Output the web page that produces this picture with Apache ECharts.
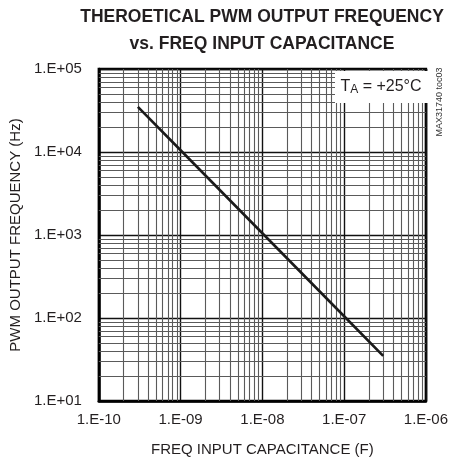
<!DOCTYPE html>
<html><head><meta charset="utf-8">
<script src="https://cdn.jsdelivr.net/npm/echarts@6/dist/echarts.min.js"></script>
<style>html,body{margin:0;padding:0;background:#fff}#c{width:451px;height:464px}</style>
</head><body><div id="c"></div>
<script>
const capacitance = [3e-10, 1e-9, 1e-8, 1e-7, 3e-7];
const frequency = [35000, 10500, 1050, 105, 35];
const xTickLabels = ['1.E-10', '1.E-09', '1.E-08', '1.E-07', '1.E-06'];
const yTickLabels = ['1.E+01', '1.E+02', '1.E+03', '1.E+04', '1.E+05'];
const xDecades = [-10, -9, -8, -7];
const yDecades = [1, 2, 3, 4];
const minorMultiples = [2, 3, 4, 5, 6, 7, 8, 9];

const X_MIN = 1e-10, X_MAX = 1e-6, Y_MIN = 10, Y_MAX = 1e5;
const minorLines = [];
xDecades.forEach(d => minorMultiples.forEach(m => {
  const v = m * Math.pow(10, d);
  minorLines.push({ coords: [[v, Y_MIN], [v, Y_MAX]] });
}));
yDecades.forEach(d => minorMultiples.forEach(m => {
  const v = m * Math.pow(10, d);
  minorLines.push({ coords: [[X_MIN, v], [X_MAX, v]] });
}));

const FONT = 'Liberation Sans';
const chart = echarts.init(document.getElementById('c'));
chart.setOption({
  animation: false,
  backgroundColor: '#fff',
  title: {
    text: 'THEROETICAL PWM OUTPUT FREQUENCY\nvs. FREQ INPUT CAPACITANCE',
    left: 257, top: -1, textAlign: 'center',
    textStyle: { fontFamily: FONT, fontSize: 17.5, fontWeight: 'bold', color: '#231f20', lineHeight: 27 }
  },
  grid: { left: 98, right: 19, top: 69, bottom: 63, show: true, borderColor: '#000', borderWidth: 2.5, backgroundColor: 'transparent' },
  xAxis: {
    type: 'log', logBase: 10, min: X_MIN, max: X_MAX,
    name: 'FREQ INPUT CAPACITANCE (F)', nameLocation: 'middle', nameGap: 41,
    nameTextStyle: { fontFamily: FONT, fontSize: 15, color: '#231f20' },
    axisLine: { show: true, lineStyle: { color: '#000', width: 2.5 } },
    axisTick: { show: false },
    axisLabel: { fontFamily: FONT, fontSize: 15, color: '#231f20', margin: 11,
      formatter: v => xTickLabels[Math.round(Math.log10(v)) + 10] },
    splitLine: { show: true, lineStyle: { color: '#111', width: 1.4 } }
  },
  yAxis: {
    type: 'log', logBase: 10, min: Y_MIN, max: Y_MAX,
    name: 'PWM OUTPUT FREQUENCY (Hz)', nameLocation: 'middle', nameGap: 70,
    nameTextStyle: { fontFamily: FONT, fontSize: 15, color: '#231f20' },
    axisLine: { show: true, lineStyle: { color: '#000', width: 2.5 } },
    axisTick: { show: false },
    axisLabel: { fontFamily: FONT, fontSize: 15, color: '#231f20', margin: 17,
      formatter: v => yTickLabels[Math.round(Math.log10(v)) - 1] },
    splitLine: { show: true, lineStyle: { color: '#111', width: 1.4 } }
  },
  series: [
    {
      type: 'lines', coordinateSystem: 'cartesian2d', silent: true, z: 1,
      lineStyle: { color: '#5a5a5a', width: 1.1, opacity: 1 },
      data: minorLines
    },
    {
      type: 'line', z: 5,
      data: capacitance.map((c, i) => [c, frequency[i]]),
      symbol: 'none', lineStyle: { color: '#1a1a1a', width: 2.6 }
    }
  ],
  graphic: [
    { type: 'rect', shape: { x: 335, y: 71, width: 93, height: 32 }, style: { fill: '#fff' }, z: 100 },
    { type: 'text', x: 381, y: 87, z: 101,
      style: { text: '{t|T}{s|A}{t| = +25°C}', align: 'center', verticalAlign: 'middle',
        rich: { t: { fontFamily: FONT, fontSize: 16, fill: '#231f20' },
                s: { fontFamily: FONT, fontSize: 12, fill: '#231f20', padding: [6, 0, 0, 0] } } } },
    { type: 'text', x: 440, y: 102, rotation: Math.PI / 2, z: 101,
      style: { text: 'MAX31740 toc03', align: 'center', verticalAlign: 'middle',
        fontFamily: FONT, fontSize: 9, fill: '#333' } }
  ]
});
</script></body></html>
